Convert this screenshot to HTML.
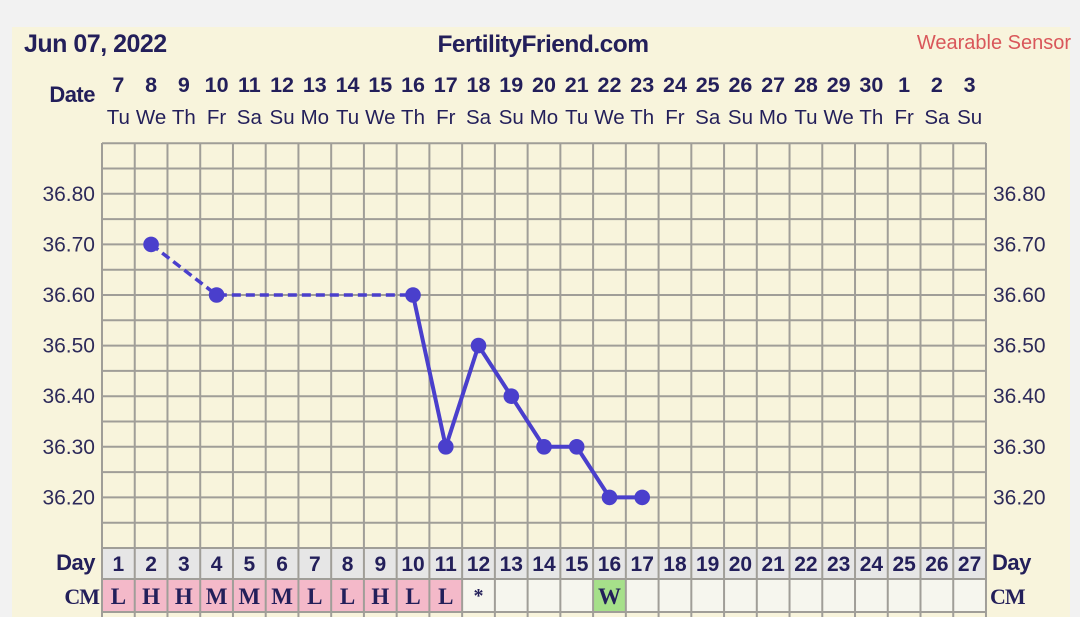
<!DOCTYPE html>
<html><head><meta charset="utf-8"><style>
html,body{margin:0;padding:0;background:#f2f2f2;}
svg{display:block;}
</style></head><body>
<svg width="1080" height="617" xmlns="http://www.w3.org/2000/svg" font-family="Liberation Sans, sans-serif">
<rect x="12" y="27" width="1058" height="590" fill="#f8f4dc"/>
<text x="24" y="52" font-size="25" font-weight="bold" fill="#231f5a" letter-spacing="-0.5">Jun 07, 2022</text>
<text x="543" y="52" font-size="24.5" font-weight="bold" fill="#231f5a" text-anchor="middle" letter-spacing="-0.5">FertilityFriend.com</text>
<text x="1071" y="49" font-size="20" fill="#d9575a" text-anchor="end">Wearable Sensor</text>
<text x="95" y="102" font-size="22" font-weight="bold" fill="#231f5a" text-anchor="end" letter-spacing="-0.5">Date</text>
<g id="dates" font-size="21.5" font-weight="bold" fill="#231f5a" text-anchor="middle"></g>
<g id="wd" font-size="20.5" fill="#231f5a" text-anchor="middle"></g>
<rect x="102" y="143" width="884" height="405" fill="#f8f4dc"/>
<rect x="102" y="548" width="884" height="31" fill="#e6e6e6"/>
<rect x="102" y="579" width="884" height="33" fill="#f6f6ee"/>
<g id="cm"></g>
<g id="grid" stroke="#a09e98" stroke-width="2"></g>
<g id="ylab" font-size="21" fill="#2d2a5a"></g>
<text x="95" y="570" font-size="22" font-weight="bold" fill="#231f5a" text-anchor="end" letter-spacing="-0.5">Day</text>
<text x="99" y="604" font-size="22" font-weight="bold" fill="#231f5a" text-anchor="end" font-family="Liberation Serif, serif" letter-spacing="-1">CM</text>
<text x="992" y="570" font-size="22" font-weight="bold" fill="#231f5a" letter-spacing="-0.5">Day</text>
<text x="990" y="604" font-size="22" font-weight="bold" fill="#231f5a" font-family="Liberation Serif, serif" letter-spacing="-1">CM</text>
<g id="days" font-size="21" font-weight="bold" fill="#231f5a" text-anchor="middle"></g>
<polyline points="151.1,244.4 216.6,295 413,295" fill="none" stroke="#4a3fcc" stroke-width="3.5" stroke-dasharray="9,5"/>
<polyline points="413,295 445.8,446.8 478.5,345.6 511.3,396.2 544,446.8 576.7,446.8 609.5,497.4 642.2,497.4" fill="none" stroke="#4a3fcc" stroke-width="4"/>
<g fill="#4a3fcc">
<circle cx="151.1" cy="244.4" r="7.8"/><circle cx="216.6" cy="295" r="7.8"/><circle cx="413" cy="295" r="7.8"/>
<circle cx="445.8" cy="446.8" r="7.8"/><circle cx="478.5" cy="345.6" r="7.8"/><circle cx="511.3" cy="396.2" r="7.8"/>
<circle cx="544" cy="446.8" r="7.8"/><circle cx="576.7" cy="446.8" r="7.8"/><circle cx="609.5" cy="497.4" r="7.8"/><circle cx="642.2" cy="497.4" r="7.8"/>
</g>
</svg>
<script>
var NS="http://www.w3.org/2000/svg";
function el(p,t,a,txt){var e=document.createElementNS(NS,t);for(var k in a)e.setAttribute(k,a[k]);if(txt!==undefined)e.textContent=txt;document.getElementById(p).appendChild(e);return e;}
var W=32.74,X0=102;
var wds=["Tu","We","Th","Fr","Sa","Su","Mo"];
var cms=["L","H","H","M","M","M","L","L","H","L","L"];
for(var d=1;d<=27;d++){
 var cx=X0+W*(d-0.5);
 var dt=d<=24?d+6:d-24;
 el("dates","text",{x:cx,y:92},String(dt));
 el("wd","text",{x:cx,y:124},wds[(d-1)%7]);
 el("days","text",{x:cx,y:571},String(d));
 if(d<=11){el("cm","rect",{x:X0+W*(d-1),y:579,width:W,height:33,fill:"#f4b9c9"});
  el("days","text",{x:cx,y:604,"font-family":"Liberation Serif, serif","font-size":"23"},cms[d-1]);}
 if(d==12)el("days","text",{x:cx,y:602,"font-family":"Liberation Serif, serif","font-size":"20"},"*");
 if(d==16){el("cm","rect",{x:X0+W*(d-1),y:579,width:W,height:33,fill:"#a6e08a"});
  el("days","text",{x:cx,y:604,"font-family":"Liberation Serif, serif","font-size":"23"},"W");}
}
for(var i=0;i<=27;i++){var x=X0+W*i;el("grid","line",{x1:x,y1:143,x2:x,y2:617});}
for(var k=0;k<=16;k++){var y=548-25.3*k;el("grid","line",{x1:X0,y1:y,x2:986,y2:y});}
el("grid","line",{x1:X0,y1:579,x2:986,y2:579});
el("grid","line",{x1:X0,y1:612,x2:986,y2:612});
for(var j=0;j<=6;j++){var v=(36.2+j*0.1).toFixed(2);var y=548-25.3*(2+2*j)+7;
 el("ylab","text",{x:95,y:y,"text-anchor":"end"},v);el("ylab","text",{x:993,y:y},v);}
</script>
</body></html>
